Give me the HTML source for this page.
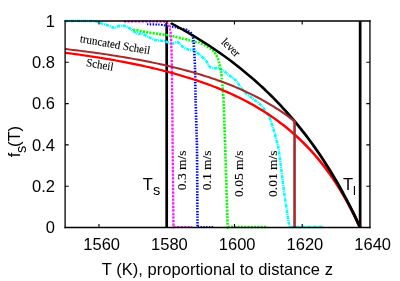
<!DOCTYPE html>
<html><head><meta charset="utf-8"><title>plot</title>
<style>html,body{margin:0;padding:0;background:#fff;overflow:hidden}svg{display:block;will-change:transform}</style></head>
<body>
<svg width="400" height="281" viewBox="0 0 400 281">
<rect width="400" height="281" fill="#fff"/>
<g fill="none" stroke-linejoin="round">
<path d="M166.7 21V227.5M360.15 21V227.5" stroke="#000" stroke-width="2.7"/>
<path d="M65.10 21.00 C68.42 21.00 86.01 20.96 90.00 21.00 C93.99 21.04 93.80 21.13 95.00 21.30 C96.20 21.47 97.93 21.95 99.00 22.30 C100.07 22.65 101.87 23.51 103.00 23.90 C104.13 24.29 106.29 24.80 107.50 25.25 C108.71 25.70 111.11 26.97 112.10 27.30 C113.09 27.63 114.14 27.87 114.90 27.75 C115.66 27.63 116.96 26.66 117.80 26.40 C118.64 26.14 120.21 25.85 121.20 25.80 C122.19 25.75 124.29 25.85 125.20 26.05 C126.11 26.25 127.24 26.88 128.00 27.30 C128.76 27.72 130.14 28.64 130.90 29.20 C131.66 29.76 132.94 30.97 133.70 31.50 C134.46 32.03 135.92 32.85 136.60 33.20 C137.28 33.55 138.17 34.10 138.80 34.10 C139.43 34.10 140.59 33.12 141.30 33.20 C142.01 33.28 143.27 34.27 144.10 34.70 C144.93 35.13 146.59 35.95 147.50 36.40 C148.41 36.85 149.98 37.65 150.90 38.10 C151.82 38.55 153.48 39.49 154.40 39.80 C155.32 40.11 156.89 40.28 157.80 40.40 C158.71 40.52 160.29 40.59 161.20 40.70 C162.11 40.81 163.69 40.99 164.60 41.20 C165.51 41.41 167.09 41.94 168.00 42.30 C168.91 42.66 170.56 43.81 171.40 43.90 C172.24 43.99 173.53 43.25 174.30 43.00 C175.07 42.75 176.43 41.87 177.20 42.00 C177.97 42.13 179.33 43.33 180.10 44.00 C180.87 44.67 182.16 46.35 183.00 47.00 C183.84 47.65 185.49 48.53 186.40 48.90 C187.31 49.27 188.99 49.65 189.80 49.80 C190.61 49.95 191.81 49.84 192.50 50.00 C193.19 50.16 194.27 50.53 195.00 51.00 C195.73 51.47 197.20 52.83 198.00 53.50 C198.80 54.17 200.20 55.33 201.00 56.00 C201.80 56.67 203.27 57.77 204.00 58.50 C204.73 59.23 205.90 60.63 206.50 61.50 C207.10 62.37 207.97 64.21 208.50 65.00 C209.03 65.79 209.83 66.93 210.50 67.40 C211.17 67.87 212.57 68.42 213.50 68.50 C214.43 68.58 216.51 67.92 217.50 68.00 C218.49 68.08 219.98 68.65 220.90 69.10 C221.82 69.55 223.48 70.72 224.40 71.40 C225.32 72.08 226.81 73.44 227.80 74.20 C228.79 74.96 230.81 76.34 231.80 77.10 C232.79 77.86 234.37 79.07 235.20 79.90 C236.03 80.73 237.32 82.38 238.00 83.30 C238.68 84.22 239.58 85.81 240.30 86.80 C241.02 87.79 242.53 89.73 243.40 90.70 C244.27 91.67 245.73 93.19 246.80 94.10 C247.87 95.01 250.19 96.59 251.40 97.50 C252.61 98.41 254.83 100.06 255.90 100.90 C256.97 101.74 258.48 102.96 259.40 103.80 C260.32 104.64 261.96 106.17 262.80 107.20 C263.64 108.23 264.91 110.37 265.70 111.50 C266.49 112.63 268.01 114.38 268.70 115.70 C269.39 117.02 270.30 119.73 270.90 121.40 C271.50 123.07 272.67 126.53 273.20 128.20 C273.73 129.87 274.45 132.22 274.90 133.90 C275.35 135.58 276.09 138.65 276.60 140.80 C277.11 142.95 277.70 142.77 278.75 150.00 C279.80 157.23 283.40 186.83 284.50 195.00 C285.60 203.17 286.45 207.70 287.00 211.30 C287.55 214.90 288.25 219.91 288.60 222.00 C288.95 224.09 289.47 226.33 289.60 227.00" stroke="#00ffff" stroke-width="2.5" stroke-dasharray="3.3 0.8 1.0 0.8"/>
<path d="M289.60 227.00 L323.50 227.00" stroke="#00ffff" stroke-width="2.5" stroke-dasharray="3.3 0.8 1.0 0.8"/>
<path d="M133.20 29.80 C133.54 29.84 134.56 29.83 136.10 30.10 C137.64 30.37 143.87 31.66 146.40 32.10 C148.93 32.54 155.14 33.50 157.80 33.90 C160.46 34.30 167.19 35.17 169.20 35.50 C171.21 35.83 173.53 36.36 175.00 36.70 C176.47 37.04 180.20 38.03 181.80 38.40 C183.40 38.77 187.10 39.48 188.70 39.90 C190.30 40.32 194.30 41.69 195.50 42.00 C196.70 42.31 198.24 42.39 199.00 42.60 C199.76 42.81 201.30 43.50 202.00 43.80 C202.70 44.10 204.30 44.83 205.00 45.20 C205.70 45.57 207.30 46.57 208.00 47.00 C208.70 47.43 210.30 48.38 211.00 48.90 C211.70 49.42 213.39 50.79 214.00 51.50 C214.61 52.21 215.76 54.18 216.20 55.00 C216.64 55.82 217.50 57.68 217.80 58.50 C218.10 59.32 218.59 61.24 218.80 62.00 C219.01 62.76 219.34 63.83 219.60 65.00 C219.86 66.17 220.73 70.37 221.00 72.00 C221.27 73.63 221.74 77.48 221.90 79.00 C222.06 80.52 222.28 83.56 222.40 85.00 C222.52 86.44 222.76 89.55 222.90 91.30 C223.04 93.05 223.40 95.48 223.60 100.00 C223.80 104.52 224.40 124.17 224.60 130.00 C224.80 135.83 224.96 139.27 225.30 150.00 C225.64 160.73 227.22 213.02 227.50 222.00 C227.78 230.98 227.68 226.42 227.70 227.00" stroke="#00ff00" stroke-width="2.6" stroke-dasharray="2 1.3"/>
<path d="M227.70 227.00 L267.50 227.00" stroke="#00ff00" stroke-width="2.6" stroke-dasharray="2 1.3"/>
<path d="M147.00 24.30 C148.10 24.32 156.30 24.41 158.00 24.50 C159.70 24.59 163.15 25.03 164.00 25.20 C164.85 25.37 165.70 26.04 166.50 26.20 C167.30 26.36 171.15 26.69 172.00 26.80 C172.85 26.91 174.40 27.18 175.00 27.30 C175.60 27.42 176.95 27.80 178.00 28.00 C179.05 28.20 184.50 29.05 185.50 29.30 C186.50 29.55 187.50 30.21 188.00 30.50 C188.50 30.79 190.05 31.65 190.50 32.20" stroke="#0000ff" stroke-width="2.1" stroke-dasharray="1.45 1.35"/>
<path d="M190.50 32.20 C190.95 32.75 192.20 35.22 192.50 36.00 C192.80 36.78 193.37 39.10 193.50 40.00 C193.63 40.90 193.65 42.30 193.80 45.00 C193.95 47.70 194.82 61.50 195.00 67.00 C195.18 72.50 195.40 91.70 195.60 100.00 C195.80 108.30 196.81 137.80 197.00 150.00 C197.19 162.20 197.43 214.30 197.50 222.00 C197.57 229.70 197.68 226.50 197.70 227.00" stroke="#0000ff" stroke-width="2.6" stroke-dasharray="1.45 1.35"/>
<path d="M197.70 227.00 L214.00 227.00" stroke="#0000ff" stroke-width="2.1" stroke-dasharray="1.45 1.35"/>
<path d="M124 21.55H163" stroke="#ff00ff" stroke-width="1.9" stroke-dasharray="2.1 1.45"/>
<path d="M163.00 21.50 C163.33 21.58 165.75 21.95 166.30 22.30 C166.85 22.65 168.13 24.33 168.50 25.00 C168.87 25.67 169.77 28.10 170.00 29.00 C170.23 29.90 170.67 32.40 170.80 34.00 C170.93 35.60 171.21 42.70 171.30 45.00 C171.39 47.30 171.63 53.50 171.70 57.00 C171.77 60.50 171.90 70.70 172.00 80.00 C172.10 89.30 172.56 135.80 172.70 150.00 C172.84 164.20 173.32 214.30 173.40 222.00 C173.48 229.70 173.49 226.50 173.50 227.00 L192.20 227.00" stroke="#ffc8ff" stroke-width="1.9"/>
<path d="M163.00 21.50 C163.33 21.58 165.75 21.95 166.30 22.30" stroke="#ff18ff" stroke-width="2" stroke-dasharray="2.05 1.5"/>
<path d="M166.30 22.30 C166.85 22.65 168.13 24.33 168.50 25.00 C168.87 25.67 169.77 28.10 170.00 29.00 C170.23 29.90 170.67 32.40 170.80 34.00 C170.93 35.60 171.21 42.70 171.30 45.00 C171.39 47.30 171.63 53.50 171.70 57.00 C171.77 60.50 171.90 70.70 172.00 80.00 C172.10 89.30 172.56 135.80 172.70 150.00 C172.84 164.20 173.32 214.30 173.40 222.00 C173.48 229.70 173.49 226.50 173.50 227.00" stroke="#ff18ff" stroke-width="2.3" stroke-dasharray="2.05 1.5"/>
<path d="M173.50 227.00 L192.20 227.00" stroke="#ff18ff" stroke-width="2" stroke-dasharray="2.05 1.5"/>
<g transform="scale(1 0.75)">
<path d="M65.10 70.35 L67.58 70.78 L70.06 71.21 L72.54 71.66 L75.02 72.11 L77.49 72.57 L79.97 73.03 L82.45 73.50 L84.93 73.98 L87.41 74.47 L89.89 74.97 L92.37 75.47 L94.85 75.98 L97.33 76.50 L99.81 77.03 L102.28 77.57 L104.76 78.12 L107.24 78.67 L109.72 79.24 L112.20 79.81 L114.68 80.40 L117.16 80.99 L119.64 81.60 L122.12 82.21 L124.59 82.84 L127.07 83.48 L129.55 84.12 L132.03 84.79 L134.51 85.46 L136.99 86.14 L139.47 86.84 L141.95 87.55 L144.43 88.27 L146.90 89.01 L149.38 89.76 L151.86 90.52 L154.34 91.30 L156.82 92.09 L159.30 92.90 L161.78 93.72 L164.26 94.56 L166.74 95.42 L169.22 96.29 L171.69 97.18 L174.17 98.09 L176.65 99.01 L179.13 99.96 L181.61 100.92 L184.09 101.91 L186.57 102.91 L189.05 103.93 L191.53 104.98 L194.00 106.05 L196.48 107.14 L198.96 108.25 L201.44 109.39 L203.92 110.55 L206.40 111.74 L208.88 112.96 L211.36 114.20 L213.84 115.46 L216.31 116.76 L218.79 118.09 L221.27 119.45 L223.75 120.83 L226.23 122.25 L228.71 123.71 L231.19 125.19 L233.67 126.72 L236.15 128.28 L238.63 129.87 L241.10 131.51 L243.58 133.19 L246.06 134.91 L248.54 136.67 L251.02 138.47 L253.50 140.32 L255.98 142.22 L258.46 144.17 L260.94 146.17 L263.41 148.22 L265.89 150.32 L268.37 152.49 L270.85 154.71 L273.33 156.99 L275.81 159.33 L278.29 161.74 L280.77 164.22 L283.25 166.76 L285.73 169.38 L288.20 172.08 L290.68 174.85 L293.16 177.71 L295.64 180.65 L298.12 183.68 L300.60 186.80 L303.08 190.02 L305.56 193.34 L308.04 196.76 L310.51 200.29 L312.99 203.94 L315.47 207.70 L317.95 211.58 L320.43 215.60 L322.91 219.75 L325.39 224.04 L327.87 228.47 L330.35 233.07 L332.82 237.82 L335.30 242.74 L337.78 247.84 L340.26 253.12 L342.74 258.60 L345.22 264.29 L347.70 270.19 L350.18 276.32 L352.66 282.68 L355.14 289.30 L357.61 296.18 L360.09 303.33" stroke="#ff0000" stroke-width="2.9"/>
<path d="M170.78 30.83 L173.18 32.52 L175.57 34.24 L177.97 35.98 L180.37 37.75 L182.76 39.54 L185.16 41.35 L187.56 43.19 L189.95 45.05 L192.35 46.94 L194.74 48.85 L197.14 50.79 L199.54 52.76 L201.93 54.75 L204.33 56.78 L206.73 58.83 L209.12 60.91 L211.52 63.03 L213.92 65.17 L216.31 67.35 L218.71 69.55 L221.10 71.79 L223.50 74.07 L225.90 76.38 L228.29 78.72 L230.69 81.10 L233.09 83.52 L235.48 85.98 L237.88 88.47 L240.28 91.01 L242.67 93.58 L245.07 96.20 L247.46 98.86 L249.86 101.56 L252.26 104.31 L254.65 107.10 L257.05 109.94 L259.45 112.83 L261.84 115.77 L264.24 118.76 L266.64 121.81 L269.03 124.90 L271.43 128.05 L273.82 131.26 L276.22 134.53 L278.62 137.85 L281.01 141.24 L283.41 144.69 L285.81 148.20 L288.20 151.78 L290.60 155.43 L293.00 159.15 L295.39 162.95 L297.79 166.81 L300.18 170.76 L302.58 174.78 L304.98 178.89 L307.37 183.08 L309.77 187.35 L312.17 191.72 L314.56 196.18 L316.96 200.73 L319.36 205.39 L321.75 210.14 L324.15 215.00 L326.54 219.97 L328.94 225.05 L331.34 230.24 L333.73 235.56 L336.13 241.00 L338.53 246.57 L340.92 252.27 L343.32 258.11 L345.72 264.10 L348.11 270.23 L350.51 276.52 L352.90 282.97 L355.30 289.58 L357.70 296.37 L360.09 303.33" stroke="#000" stroke-width="3.0"/>
<path d="M65.10 65.38 L67.68 65.78 L70.26 66.18 L72.83 66.59 L75.41 67.00 L77.99 67.42 L80.57 67.85 L83.15 68.29 L85.72 68.73 L88.30 69.18 L90.88 69.64 L93.46 70.10 L96.04 70.58 L98.62 71.06 L101.19 71.55 L103.77 72.05 L106.35 72.55 L108.93 73.07 L111.51 73.60 L114.08 74.13 L116.66 74.67 L119.24 75.23 L121.82 75.79 L124.40 76.37 L126.97 76.95 L129.55 77.55 L132.13 78.15 L134.71 78.77 L137.29 79.40 L139.86 80.04 L142.44 80.69 L145.02 81.36 L147.60 82.04 L150.18 82.73 L152.76 83.44 L155.33 84.16 L157.91 84.89 L160.49 85.64 L163.07 86.40 L165.65 87.18 L168.22 87.98 L170.80 88.79 L173.38 89.62 L175.96 90.46 L178.54 91.32 L181.11 92.20 L183.69 93.10 L186.27 94.02 L188.85 94.96 L191.43 95.92 L194.00 96.90 L196.58 97.90 L199.16 98.93 L201.74 99.97 L204.32 101.04 L206.89 102.14 L209.47 103.26 L212.05 104.40 L214.63 105.58 L217.21 106.78 L219.79 108.00 L222.36 109.26 L224.94 110.55 L227.52 111.87 L230.10 113.22 L232.68 114.61 L235.25 116.02 L237.83 117.48 L240.41 118.97 L242.99 120.50 L245.57 122.07 L248.14 123.68 L250.72 125.33 L253.30 127.02 L255.88 128.76 L258.46 130.55 L261.03 132.39 L263.61 134.27 L266.19 136.21 L268.77 138.20 L271.35 140.25 L273.93 142.36 L276.50 144.53 L279.08 146.76 L281.66 149.05 L284.24 151.42 L286.82 153.85 L289.39 156.36 L291.97 158.94 L294.55 161.61 L294.55 161.61 L294.55 303.33" stroke="#a52a2a" stroke-width="2.6" stroke-linejoin="miter"/>
</g>
</g>
<path d="M65.10 20.30V228.20M369.95 20.30V228.20" fill="none" stroke="#000" stroke-width="1.3"/>
<path d="M64.50 21.00H370.55M64.50 227.50H370.55" fill="none" stroke="#000" stroke-width="1.5"/>
<path d="M98.97 227.5v-3.6M98.97 21.0v3.6 M166.72 227.5v-3.6M166.72 21.0v3.6 M234.46 227.5v-3.6M234.46 21.0v3.6 M302.21 227.5v-3.6M302.21 21.0v3.6 M65.1 186.20h3.6M369.9 186.20h-3.6 M65.1 144.90h3.6M369.9 144.90h-3.6 M65.1 103.60h3.6M369.9 103.60h-3.6 M65.1 62.30h3.6M369.9 62.30h-3.6" fill="none" stroke="#000" stroke-width="1.1"/>
<g font-family="Liberation Sans, sans-serif" font-size="16.5" fill="#000">
<text x="101.7" y="250.2" text-anchor="middle">1560</text>
<text x="169.4" y="250.2" text-anchor="middle">1580</text>
<text x="237.2" y="250.2" text-anchor="middle">1600</text>
<text x="304.9" y="250.2" text-anchor="middle">1620</text>
<text x="372.7" y="250.2" text-anchor="middle">1640</text>
<text x="54.9" y="233.1" text-anchor="end">0</text>
<text x="54.9" y="191.8" text-anchor="end">0.2</text>
<text x="54.9" y="150.5" text-anchor="end">0.4</text>
<text x="54.9" y="109.2" text-anchor="end">0.6</text>
<text x="54.9" y="67.9" text-anchor="end">0.8</text>
<text x="54.9" y="26.6" text-anchor="end">1</text>
<text x="101.7" y="274.5" textLength="231.2" lengthAdjust="spacing">T (K), proportional to distance z</text>
<text transform="translate(20.0 157.2) rotate(-90)">f<tspan dx="-0.5" dy="6.2" font-size="14.5">s</tspan><tspan dx="-1.2" dy="-6.2">(T)</tspan></text>
<text x="142.8" y="190">T<tspan dy="5" font-size="14.5">s</tspan></text>
<text x="343" y="190">T<tspan dy="5" font-size="13">l</tspan></text>
</g>
<g font-family="Liberation Serif, serif" fill="#000" stroke="#000" stroke-width="0.12">
<text font-size="13.5" transform="translate(186.3 150.4) rotate(-90)" text-anchor="end">0.3 m/s</text>
<text font-size="13.5" transform="translate(210.8 150.4) rotate(-90)" text-anchor="end">0.1 m/s</text>
<text font-size="13.5" transform="translate(243.2 150.4) rotate(-90)" text-anchor="end">0.05 m/s</text>
<text font-size="13.5" transform="translate(277.0 150.4) rotate(-90)" text-anchor="end">0.01 m/s</text>
<text stroke-width="0.1" font-size="11.5" transform="translate(79.5 42) rotate(10)" textLength="71" lengthAdjust="spacingAndGlyphs">truncated Scheil</text>
<text stroke-width="0.1" font-size="11.5" transform="translate(85.8 66) rotate(10)" textLength="27.4" lengthAdjust="spacingAndGlyphs">Scheil</text>
<text stroke-width="0.1" font-size="11.5" transform="translate(220.7 42.7) rotate(44.5)" textLength="21.2" lengthAdjust="spacingAndGlyphs">lever</text>
</g>
</svg>
</body></html>
